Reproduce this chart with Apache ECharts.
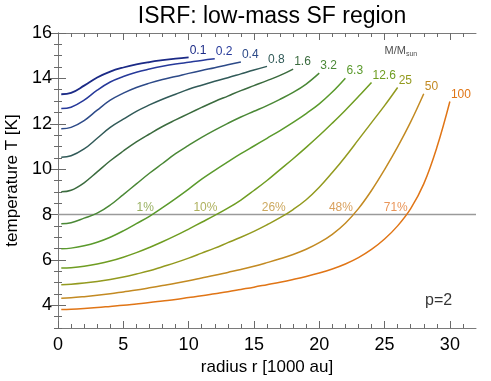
<!DOCTYPE html>
<html>
<head>
<meta charset="utf-8">
<script src="https://cdn.jsdelivr.net/npm/echarts@6/dist/echarts.min.js"></script>
<style>
  html, body { margin: 0; padding: 0; background: #fff; }
  #chart { width: 491px; height: 381px; }
</style>
</head>
<body>
<div id="chart"></div>
<script>
// radius grid in 1000 au (shared by all curves, each curve stops at its own end)
const radius = [0.25, 1, 2, 3, 4, 5, 6, 7, 8, 9, 10, 11, 12, 13, 14, 15, 16, 17, 18, 19, 20,
  21, 22, 23, 24, 25, 26, 27, 28, 29, 30];

// temperature profiles T [K], one per cloud mass
const t01 = [13.30, 13.36, 13.68, 14.04, 14.30, 14.48, 14.62, 14.72, 14.80, 14.87, 14.93];
const t02 = [12.67, 12.73, 13.04, 13.48, 13.84, 14.08, 14.27, 14.41, 14.53, 14.63, 14.71, 14.79, 14.86];
const t04 = [11.78, 11.84, 12.14, 12.60, 13.04, 13.35, 13.60, 13.79, 13.95, 14.08, 14.22, 14.35, 14.47,
  14.60, 14.72];
const t08 = [10.53, 10.59, 10.89, 11.36, 11.84, 12.20, 12.55, 12.83, 13.08, 13.30, 13.52, 13.70, 13.87,
  14.03, 14.20, 14.37, 14.53];
const t16 = [9.00, 9.07, 9.40, 9.88, 10.37, 10.80, 11.20, 11.55, 11.88, 12.17, 12.45, 12.72, 12.98,
  13.22, 13.46, 13.68, 13.90, 14.13, 14.41];
const t32 = [7.59, 7.64, 7.84, 8.06, 8.42, 8.88, 9.35, 9.82, 10.25, 10.68, 11.05, 11.40, 11.72, 12.02,
  12.30, 12.55, 12.80, 13.08, 13.38, 13.75, 14.23];
const t63 = [6.49, 6.52, 6.62, 6.78, 7.00, 7.28, 7.60, 7.92, 8.30, 8.70, 9.12, 9.56, 9.95, 10.32, 10.68,
  11.02, 11.36, 11.70, 12.06, 12.45, 12.88, 13.40, 14.01];
const t126 = [5.64, 5.66, 5.72, 5.82, 5.95, 6.12, 6.32, 6.55, 6.80, 7.07, 7.36, 7.66, 7.96, 8.28, 8.64,
  9.06, 9.50, 9.98, 10.46, 10.96, 11.48, 12.03, 12.60, 13.20, 13.82];
const t25 = [4.91, 4.93, 4.98, 5.05, 5.14, 5.25, 5.38, 5.52, 5.70, 5.88, 6.08, 6.30, 6.52, 6.76, 7.00,
  7.26, 7.55, 7.86, 8.22, 8.65, 9.20, 9.85, 10.55, 11.30, 12.05, 12.80, 13.60];
const t50 = [4.31, 4.33, 4.38, 4.44, 4.51, 4.59, 4.67, 4.77, 4.87, 4.97, 5.08, 5.20, 5.32, 5.45, 5.58,
  5.72, 5.88, 6.05, 6.24, 6.47, 6.76, 7.13, 7.62, 8.26, 9.06, 9.98, 10.98, 12.08, 13.32];
const t100 = [3.82, 3.83, 3.86, 3.90, 3.95, 4.00, 4.06, 4.12, 4.19, 4.26, 4.34, 4.42, 4.51, 4.60, 4.70,
  4.80, 4.91, 5.02, 5.14, 5.27, 5.42, 5.60, 5.82, 6.10, 6.46, 6.92, 7.50, 8.26, 9.35, 10.95, 12.98];

const masses = ["0.1", "0.2", "0.4", "0.8", "1.6", "3.2", "6.3", "12.6", "25", "50", "100"];
const profiles = [t01, t02, t04, t08, t16, t32, t63, t126, t25, t50, t100];
const colors = ["#1b2a86", "#26399a", "#2d4a88", "#315a58", "#3b6b3e", "#4a8836", "#5a9a2c",
  "#6f9d22", "#939a1f", "#c38a22", "#e07516"];

// fraction labels where the profiles cross T = 8 K
const levelT = 8;
const pctLabels = ["1%", "10%", "26%", "48%", "71%"];
const pctX = [7.27, 12.13, 17.36, 22.5, 26.7];
const pctColors = ["#7e9c3a", "#9a9c34", "#bf9236", "#cf8a36", "#e47a30"];

// axis ticks
const xMajor = [0, 5, 10, 15, 20, 25, 30];
const xMinor = [1, 2, 3, 4, 6, 7, 8, 9, 11, 12, 13, 14, 16, 17, 18, 19, 21, 22, 23, 24, 26, 27, 28, 29, 31];
const yMajor = [4, 6, 8, 10, 12, 14, 16];
const yMinor = [3, 3.5, 4.5, 5, 5.5, 6.5, 7, 7.5, 8.5, 9, 9.5, 10.5, 11, 11.5, 12.5, 13, 13.5,
  14.5, 15, 15.5];

const FONT = "Liberation Sans";

var chartDom = document.getElementById("chart");
var myChart = echarts.init(chartDom, null, { renderer: "canvas" });

function xAx(pos, ticks, len, line, labels) {
  return {
    type: "value", min: 0, max: 32, position: pos,
    axisLine: { show: line, lineStyle: { color: "#7a7a7a", width: 1 } },
    axisTick: { show: true, inside: true, length: len, customValues: ticks,
      lineStyle: { color: "#6a6a6a", width: 1 } },
    axisLabel: labels
      ? { show: true, customValues: ticks, fontFamily: FONT, fontSize: 18, color: "#000", margin: 8 }
      : { show: false },
    splitLine: { show: false },
  };
}
function yAx(pos, ticks, len, line, labels) {
  return {
    type: "value", min: 3, max: 16, position: pos,
    axisLine: { show: line, lineStyle: { color: "#7a7a7a", width: 1 } },
    axisTick: { show: true, inside: true, length: len, customValues: ticks,
      lineStyle: { color: "#6a6a6a", width: 1 } },
    axisLabel: labels
      ? { show: true, customValues: ticks, fontFamily: FONT, fontSize: 18, color: "#000", margin: 6 }
      : { show: false },
    splitLine: { show: false },
  };
}

const xMain = xAx("bottom", xMajor, 7, true, true);
xMain.name = "radius r [1000 au]";
xMain.nameLocation = "middle";
xMain.nameGap = 26;
xMain.nameTextStyle = { fontFamily: FONT, fontSize: 17, color: "#000" };

const yMain = yAx("left", yMajor, 8, true, true);
yMain.name = "temperature T [K]";
yMain.nameLocation = "middle";
yMain.nameGap = 34;
yMain.nameTextStyle = { fontFamily: FONT, fontSize: 17, color: "#000" };

const lineSeries = profiles.map((t, i) => ({
  name: masses[i],
  type: "line",
  data: t.map((v, k) => [radius[k], v]),
  showSymbol: false,
  smooth: 0.4,
  lineStyle: { color: colors[i], width: i === 0 ? 1.8 : 1.5 },
  itemStyle: { color: colors[i] },
  endLabel: {
    show: true,
    formatter: masses[i],
    color: colors[i],
    fontFamily: FONT,
    fontSize: 12,
    distance: 1,
    offset: [0, -7],
  },
  silent: true,
  z: 3,
}));

var option = {
  animation: false,
  backgroundColor: "#fff",
  title: {
    text: "ISRF: low-mass SF region",
    left: 267,
    textAlign: "center",
    top: 0,
    textStyle: { fontFamily: FONT, fontSize: 23, fontWeight: "normal", color: "#000" },
  },
  grid: { left: 58, right: 15, top: 33, bottom: 53, containLabel: false, outerBoundsMode: "none" },
  xAxis: [
    xMain,
    xAx("bottom", xMinor, 4, false, false),
    xAx("top", xMajor, 7, true, false),
    xAx("top", xMinor, 4, false, false),
  ],
  yAxis: [
    yMain,
    yAx("left", yMinor, 4, false, false),
    yAx("right", yMajor, 8, true, false),
    yAx("right", yMinor, 4, false, false),
  ],
  series: [
    {
      type: "line",
      data: [[0, levelT], [32, levelT]],
      showSymbol: false,
      lineStyle: { color: "#9a9a9a", width: 1.5 },
      silent: true,
      z: 2,
    },
    ...lineSeries,
    {
      type: "scatter",
      symbolSize: 0,
      data: pctX.map((x, i) => ({
        value: [x, levelT],
        label: { color: pctColors[i] },
      })),
      label: {
        show: true,
        position: "left",
        distance: 0,
        align: "right",
        verticalAlign: "bottom",
        offset: [1, -1],
        fontFamily: FONT,
        fontSize: 12,
        formatter: (p) => pctLabels[p.dataIndex],
      },
      silent: true,
      z: 4,
    },
    {
      type: "scatter",
      symbolSize: 0,
      data: [
        { value: [25.0, 15.2], name: "mass" },
        { value: [28.1, 4.2], name: "p" },
      ],
      label: {
        show: true,
        position: "right",
        distance: 0,
        align: "left",
        verticalAlign: "middle",
        fontFamily: FONT,
        color: "#000",
        formatter: (p) => (p.name === "mass" ? "{a|M/M}{b|sun}" : "{c|p=2}"),
        rich: {
          a: { fontFamily: FONT, fontSize: 11, color: "#222" },
          b: { fontFamily: FONT, fontSize: 7, color: "#222", verticalAlign: "bottom", padding: [5, 0, 0, 0] },
          c: { fontFamily: FONT, fontSize: 16, color: "#000" },
        },
      },
      silent: true,
      z: 4,
    },
  ],
};
myChart.setOption(option);
</script>
</body>
</html>
